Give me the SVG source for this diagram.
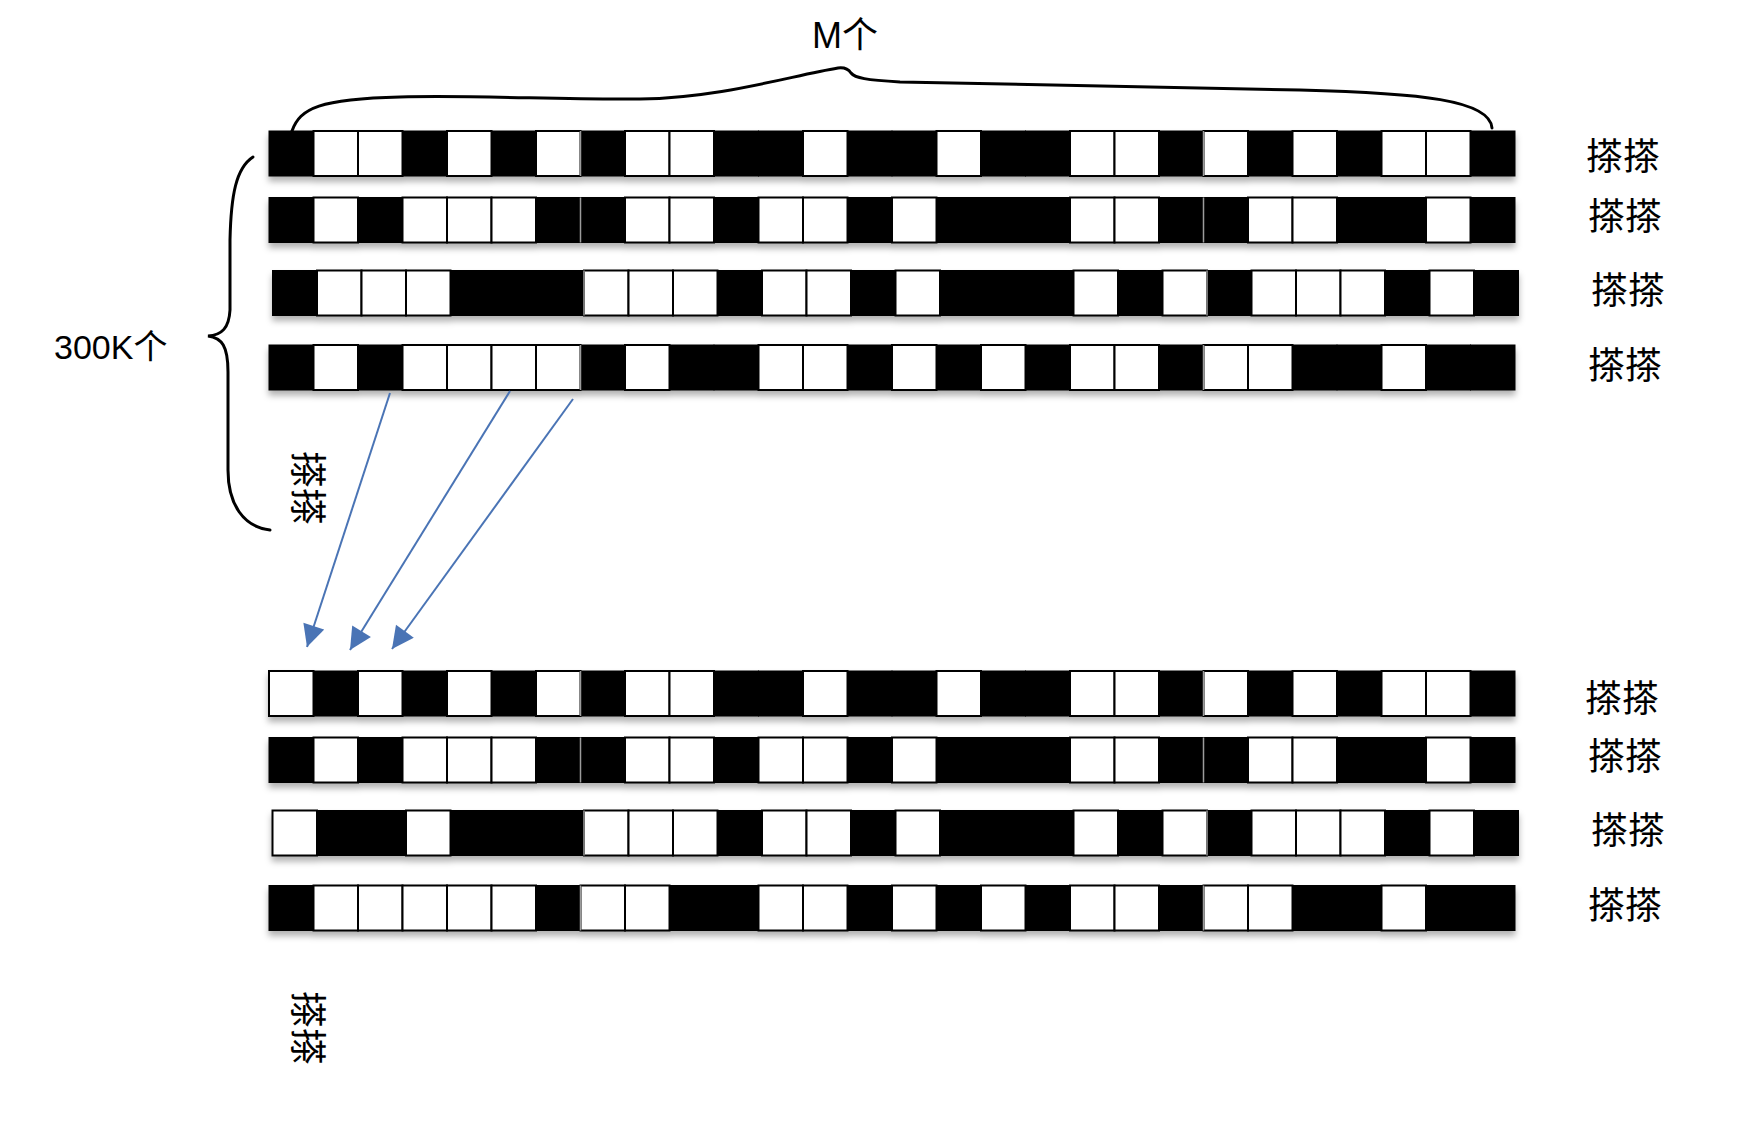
<svg xmlns="http://www.w3.org/2000/svg" xmlns:xlink="http://www.w3.org/1999/xlink" width="1758" height="1130" viewBox="0 0 1758 1130">
<style>
.lbl{font-family:"Noto Sans CJK SC","Noto Sans CJK JP",sans-serif;font-size:37px;fill:#000}
.txt{font-family:"Liberation Sans","Noto Sans CJK SC",sans-serif;font-size:33px;fill:#000}
.brace{fill:none;stroke:#000;stroke-width:3;stroke-linecap:round}
.arr{fill:none;stroke:#4A74B5;stroke-width:2}
.sep{stroke:#9c9c9c;stroke-width:1.5}
</style>
<defs>
<rect id="B" y="0" width="44.5" height="45" fill="#000" stroke="#000" stroke-width="1"/>
<rect id="W" y="0" width="44.5" height="45" fill="#fff" stroke="#000" stroke-width="2"/>
<filter id="sh" x="-5%" y="-30%" width="110%" height="190%">
<feDropShadow dx="0" dy="5" stdDeviation="3" flood-color="#000" flood-opacity="0.3"/>
</filter>
<marker id="ah" viewBox="0 0 10 10" refX="10" refY="5" markerUnits="userSpaceOnUse" markerWidth="24" markerHeight="22" orient="auto">
<path d="M0,0 L10,5 L0,10 z" fill="#4A74B5"/>
</marker>
</defs>
<rect x="0" y="0" width="1758" height="1130" fill="#fff"/>

<g id="row1" transform="translate(269,131)">
<g filter="url(#sh)">
<use href="#B" x="0"/><use href="#W" x="44.5"/><use href="#W" x="89"/><use href="#B" x="133.5"/><use href="#W" x="178"/><use href="#B" x="222.5"/><use href="#W" x="267"/>
<use href="#B" x="311.5"/><use href="#W" x="356"/><use href="#W" x="400.5"/><use href="#B" x="445"/><use href="#B" x="489.5"/><use href="#W" x="534"/><use href="#B" x="578.5"/><use href="#B" x="623"/><use href="#W" x="667.5"/><use href="#B" x="712"/><use href="#B" x="756.5"/><use href="#W" x="801"/><use href="#W" x="845.5"/><use href="#B" x="890"/>
<use href="#W" x="934.5"/><use href="#B" x="979"/><use href="#W" x="1023.5"/><use href="#B" x="1068"/><use href="#W" x="1112.5"/><use href="#W" x="1157"/><use href="#B" x="1201.5"/>
</g>
<line class="sep" x1="311.5" y1="0" x2="311.5" y2="45"/><line class="sep" x1="934.5" y1="0" x2="934.5" y2="45"/>
</g>

<g id="row2" transform="translate(269,197.5)">
<g filter="url(#sh)">
<use href="#B" x="0"/><use href="#W" x="44.5"/><use href="#B" x="89"/><use href="#W" x="133.5"/><use href="#W" x="178"/><use href="#W" x="222.5"/><use href="#B" x="267"/>
<use href="#B" x="311.5"/><use href="#W" x="356"/><use href="#W" x="400.5"/><use href="#B" x="445"/><use href="#W" x="489.5"/><use href="#W" x="534"/><use href="#B" x="578.5"/><use href="#W" x="623"/><use href="#B" x="667.5"/><use href="#B" x="712"/><use href="#B" x="756.5"/><use href="#W" x="801"/><use href="#W" x="845.5"/><use href="#B" x="890"/>
<use href="#B" x="934.5"/><use href="#W" x="979"/><use href="#W" x="1023.5"/><use href="#B" x="1068"/><use href="#B" x="1112.5"/><use href="#W" x="1157"/><use href="#B" x="1201.5"/>
</g>
<line class="sep" x1="311.5" y1="0" x2="311.5" y2="45"/><line class="sep" x1="934.5" y1="0" x2="934.5" y2="45"/>
</g>

<g id="row3" transform="translate(272.5,270.5)">
<g filter="url(#sh)">
<use href="#B" x="0"/><use href="#W" x="44.5"/><use href="#W" x="89"/><use href="#W" x="133.5"/><use href="#B" x="178"/><use href="#B" x="222.5"/><use href="#B" x="267"/>
<use href="#W" x="311.5"/><use href="#W" x="356"/><use href="#W" x="400.5"/><use href="#B" x="445"/><use href="#W" x="489.5"/><use href="#W" x="534"/><use href="#B" x="578.5"/><use href="#W" x="623"/><use href="#B" x="667.5"/><use href="#B" x="712"/><use href="#B" x="756.5"/><use href="#W" x="801"/><use href="#B" x="845.5"/><use href="#W" x="890"/>
<use href="#B" x="934.5"/><use href="#W" x="979"/><use href="#W" x="1023.5"/><use href="#W" x="1068"/><use href="#B" x="1112.5"/><use href="#W" x="1157"/><use href="#B" x="1201.5"/>
</g>
<line class="sep" x1="311.5" y1="0" x2="311.5" y2="45"/><line class="sep" x1="934.5" y1="0" x2="934.5" y2="45"/>
</g>

<g id="row4" transform="translate(269,345)">
<g filter="url(#sh)">
<use href="#B" x="0"/><use href="#W" x="44.5"/><use href="#B" x="89"/><use href="#W" x="133.5"/><use href="#W" x="178"/><use href="#W" x="222.5"/><use href="#W" x="267"/>
<use href="#B" x="311.5"/><use href="#W" x="356"/><use href="#B" x="400.5"/><use href="#B" x="445"/><use href="#W" x="489.5"/><use href="#W" x="534"/><use href="#B" x="578.5"/><use href="#W" x="623"/><use href="#B" x="667.5"/><use href="#W" x="712"/><use href="#B" x="756.5"/><use href="#W" x="801"/><use href="#W" x="845.5"/><use href="#B" x="890"/>
<use href="#W" x="934.5"/><use href="#W" x="979"/><use href="#B" x="1023.5"/><use href="#B" x="1068"/><use href="#W" x="1112.5"/><use href="#B" x="1157"/><use href="#B" x="1201.5"/>
</g>
<line class="sep" x1="311.5" y1="0" x2="311.5" y2="45"/><line class="sep" x1="934.5" y1="0" x2="934.5" y2="45"/>
</g>

<g id="row5" transform="translate(269,671)">
<g filter="url(#sh)">
<use href="#W" x="0"/><use href="#B" x="44.5"/><use href="#W" x="89"/><use href="#B" x="133.5"/><use href="#W" x="178"/><use href="#B" x="222.5"/><use href="#W" x="267"/>
<use href="#B" x="311.5"/><use href="#W" x="356"/><use href="#W" x="400.5"/><use href="#B" x="445"/><use href="#B" x="489.5"/><use href="#W" x="534"/><use href="#B" x="578.5"/><use href="#B" x="623"/><use href="#W" x="667.5"/><use href="#B" x="712"/><use href="#B" x="756.5"/><use href="#W" x="801"/><use href="#W" x="845.5"/><use href="#B" x="890"/>
<use href="#W" x="934.5"/><use href="#B" x="979"/><use href="#W" x="1023.5"/><use href="#B" x="1068"/><use href="#W" x="1112.5"/><use href="#W" x="1157"/><use href="#B" x="1201.5"/>
</g>
<line class="sep" x1="311.5" y1="0" x2="311.5" y2="45"/><line class="sep" x1="934.5" y1="0" x2="934.5" y2="45"/>
</g>

<g id="row6" transform="translate(269,737.5)">
<g filter="url(#sh)">
<use href="#B" x="0"/><use href="#W" x="44.5"/><use href="#B" x="89"/><use href="#W" x="133.5"/><use href="#W" x="178"/><use href="#W" x="222.5"/><use href="#B" x="267"/>
<use href="#B" x="311.5"/><use href="#W" x="356"/><use href="#W" x="400.5"/><use href="#B" x="445"/><use href="#W" x="489.5"/><use href="#W" x="534"/><use href="#B" x="578.5"/><use href="#W" x="623"/><use href="#B" x="667.5"/><use href="#B" x="712"/><use href="#B" x="756.5"/><use href="#W" x="801"/><use href="#W" x="845.5"/><use href="#B" x="890"/>
<use href="#B" x="934.5"/><use href="#W" x="979"/><use href="#W" x="1023.5"/><use href="#B" x="1068"/><use href="#B" x="1112.5"/><use href="#W" x="1157"/><use href="#B" x="1201.5"/>
</g>
<line class="sep" x1="311.5" y1="0" x2="311.5" y2="45"/><line class="sep" x1="934.5" y1="0" x2="934.5" y2="45"/>
</g>

<g id="row7" transform="translate(272.5,810.5)">
<g filter="url(#sh)">
<use href="#W" x="0"/><use href="#B" x="44.5"/><use href="#B" x="89"/><use href="#W" x="133.5"/><use href="#B" x="178"/><use href="#B" x="222.5"/><use href="#B" x="267"/>
<use href="#W" x="311.5"/><use href="#W" x="356"/><use href="#W" x="400.5"/><use href="#B" x="445"/><use href="#W" x="489.5"/><use href="#W" x="534"/><use href="#B" x="578.5"/><use href="#W" x="623"/><use href="#B" x="667.5"/><use href="#B" x="712"/><use href="#B" x="756.5"/><use href="#W" x="801"/><use href="#B" x="845.5"/><use href="#W" x="890"/>
<use href="#B" x="934.5"/><use href="#W" x="979"/><use href="#W" x="1023.5"/><use href="#W" x="1068"/><use href="#B" x="1112.5"/><use href="#W" x="1157"/><use href="#B" x="1201.5"/>
</g>
<line class="sep" x1="311.5" y1="0" x2="311.5" y2="45"/><line class="sep" x1="934.5" y1="0" x2="934.5" y2="45"/>
</g>

<g id="row8" transform="translate(269,885.5)">
<g filter="url(#sh)">
<use href="#B" x="0"/><use href="#W" x="44.5"/><use href="#W" x="89"/><use href="#W" x="133.5"/><use href="#W" x="178"/><use href="#W" x="222.5"/><use href="#B" x="267"/>
<use href="#W" x="311.5"/><use href="#W" x="356"/><use href="#B" x="400.5"/><use href="#B" x="445"/><use href="#W" x="489.5"/><use href="#W" x="534"/><use href="#B" x="578.5"/><use href="#W" x="623"/><use href="#B" x="667.5"/><use href="#W" x="712"/><use href="#B" x="756.5"/><use href="#W" x="801"/><use href="#W" x="845.5"/><use href="#B" x="890"/>
<use href="#W" x="934.5"/><use href="#W" x="979"/><use href="#B" x="1023.5"/><use href="#B" x="1068"/><use href="#W" x="1112.5"/><use href="#B" x="1157"/><use href="#B" x="1201.5"/>
</g>
<line class="sep" x1="311.5" y1="0" x2="311.5" y2="45"/><line class="sep" x1="934.5" y1="0" x2="934.5" y2="45"/>
</g>

<g id="labels">
<text class="lbl" x="1586" y="170">搽搽</text>
<text class="lbl" x="1588" y="230">搽搽</text>
<text class="lbl" x="1591" y="304">搽搽</text>
<text class="lbl" x="1588" y="379">搽搽</text>
<text class="lbl" x="1585" y="712">搽搽</text>
<text class="lbl" x="1588" y="770">搽搽</text>
<text class="lbl" x="1591" y="844">搽搽</text>
<text class="lbl" x="1588" y="919">搽搽</text>
<text class="lbl" transform="translate(294,451) rotate(90)">搽搽</text>
<text class="lbl" transform="translate(294,991) rotate(90)">搽搽</text>
</g>

<g id="brace-top">
<path class="brace" d="M292,131 C300,108 320,99 400,97 C480,95 560,100 640,99 C720,98 790,76 838,68 C846,67 849,70 851,73 C855,78 866,80 900,82 C1000,85 1150,87 1300,90 C1420,93 1490,100 1492,128"/>
<text class="txt" x="812" y="48" style="font-size:36px">M个</text>
</g>

<g id="brace-left">
<path class="brace" d="M253,157 C236,168 231,195 230,240 L230,310 C229,328 222,335 208,336 C222,338 228,346 228,372 L228,470 C228,505 244,527 270,530"/>
<text class="txt" x="54" y="359" style="font-size:34px">300K个</text>
</g>

<g id="connectors">
<line class="arr" x1="390" y1="393" x2="307" y2="647" marker-end="url(#ah)"/>
<line class="arr" x1="510" y1="391" x2="350" y2="650" marker-end="url(#ah)"/>
<line class="arr" x1="573" y1="399" x2="392" y2="649" marker-end="url(#ah)"/>
</g>
</svg>
